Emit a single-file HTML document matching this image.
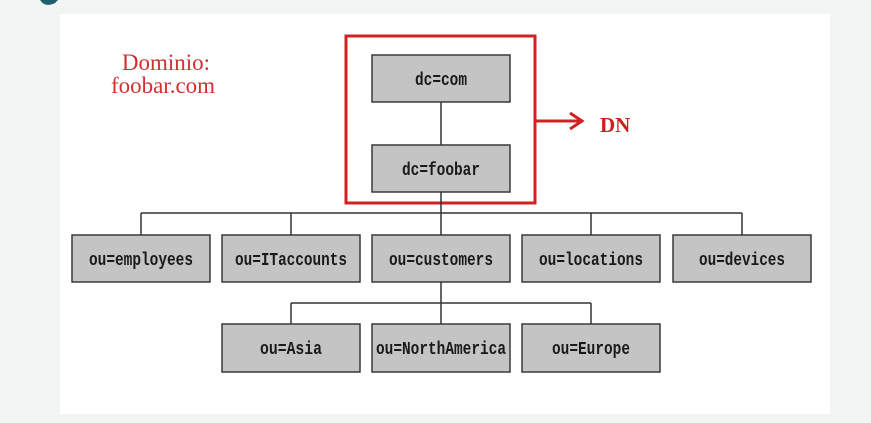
<!DOCTYPE html>
<html><head><meta charset="utf-8"><style>
html,body{margin:0;padding:0;background:#f3f4f4;width:871px;height:423px;overflow:hidden}
svg{display:block}
.bx{fill:#c4c4c4;stroke:#3a3a3a;stroke-width:1.5}
.bt{font-family:"Liberation Mono",monospace;font-weight:bold;font-size:18px;fill:#1a1a1a;text-anchor:middle}
.ln{stroke:#333;stroke-width:1.5;fill:none}
</style></head><body>
<svg width="871" height="423" xmlns="http://www.w3.org/2000/svg">
<rect x="0" y="0" width="871" height="423" fill="#f3f4f4"/>
<rect x="60" y="14" width="770" height="400" fill="#ffffff"/>
<path d="M40 0 Q45 8 55 3 L58 0Z" fill="#1f5f70"/>
<text x="166" y="70" font-family="Liberation Serif,serif" font-size="23" fill="#d03030" text-anchor="middle">Dominio:</text>
<text x="163" y="93" font-family="Liberation Serif,serif" font-size="23" fill="#d03030" text-anchor="middle">foobar.com</text>
<rect x="346" y="36" width="189" height="167" fill="none" stroke="#d42020" stroke-width="3"/>
<line x1="535" y1="121" x2="580" y2="121" stroke="#d42020" stroke-width="3"/>
<path d="M570 113 L582 121 L570 129" fill="none" stroke="#d42020" stroke-width="3"/>
<text x="600" y="132" font-family="Liberation Serif,serif" font-weight="bold" font-size="21" fill="#cc2020">DN</text>
<path class="ln" d="M441 102V145M441 192V235M441 282V324M141 213H742M141 213V235M291 213V235M591 213V235M742 213V235M291 303H591M291 303V324M591 303V324"/>
<g>
<rect class="bx" x="372" y="55" width="138" height="47"/><text class="bt" x="441" y="85" textLength="52" lengthAdjust="spacingAndGlyphs">dc=com</text>
<rect class="bx" x="372" y="145" width="138" height="47"/><text class="bt" x="441" y="175" textLength="78" lengthAdjust="spacingAndGlyphs">dc=foobar</text>
<rect class="bx" x="72" y="235" width="138" height="47"/><text class="bt" x="141" y="265" textLength="104" lengthAdjust="spacingAndGlyphs">ou=employees</text>
<rect class="bx" x="222" y="235" width="138" height="47"/><text class="bt" x="291" y="265" textLength="112" lengthAdjust="spacingAndGlyphs">ou=ITaccounts</text>
<rect class="bx" x="372" y="235" width="138" height="47"/><text class="bt" x="441" y="265" textLength="104" lengthAdjust="spacingAndGlyphs">ou=customers</text>
<rect class="bx" x="522" y="235" width="138" height="47"/><text class="bt" x="591" y="265" textLength="104" lengthAdjust="spacingAndGlyphs">ou=locations</text>
<rect class="bx" x="673" y="235" width="138" height="47"/><text class="bt" x="742" y="265" textLength="86" lengthAdjust="spacingAndGlyphs">ou=devices</text>
<rect class="bx" x="222" y="324" width="138" height="48"/><text class="bt" x="291" y="354" textLength="62" lengthAdjust="spacingAndGlyphs">ou=Asia</text>
<rect class="bx" x="372" y="324" width="138" height="48"/><text class="bt" x="441" y="354" textLength="130" lengthAdjust="spacingAndGlyphs">ou=NorthAmerica</text>
<rect class="bx" x="522" y="324" width="138" height="48"/><text class="bt" x="591" y="354" textLength="78" lengthAdjust="spacingAndGlyphs">ou=Europe</text>
</g>
</svg>
</body></html>
